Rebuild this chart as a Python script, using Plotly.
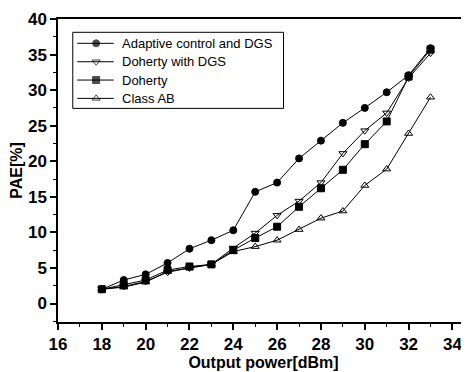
import plotly.graph_objects as go

x_power = [18, 19, 20, 21, 22, 23, 24, 25, 26, 27, 28, 29, 30, 31, 32, 33]
adaptive_dgs = [2.0, 3.3, 4.1, 5.7, 7.7, 8.9, 10.3, 15.7, 17.0, 20.4, 22.9, 25.4, 27.5, 29.7, 32.1, 35.9]
doherty_dgs = [2.0, 2.4, 3.1, 4.4, 5.0, 5.5, 7.8, 9.9, 12.4, 14.4, 17.0, 21.1, 24.3, 26.8, 31.7, 35.2]
doherty = [2.0, 2.6, 3.3, 4.7, 5.2, 5.5, 7.5, 9.2, 10.8, 13.6, 16.2, 18.8, 22.4, 25.6, 31.9, 35.7]
class_ab = [2.0, 2.3, 3.0, 4.5, 5.0, 5.5, 7.3, 8.0, 8.9, 10.4, 12.0, 13.0, 16.6, 18.9, 23.9, 29.0]

x_ticks = [16, 18, 20, 22, 24, 26, 28, 30, 32, 34]
y_ticks = [0, 5, 10, 15, 20, 25, 30, 35, 40]

series_names = ["Adaptive control and DGS", "Doherty with DGS", "Doherty", "Class AB"]
series_values = [adaptive_dgs, doherty_dgs, doherty, class_ab]
series_symbols = ["circle", "triangle-down-open", "square", "triangle-up-open"]

# the page body has an 8px margin; size the figure so it fills the rest of the window
OFF = 8
W, H = 469 - OFF, 372 - OFF
l, r, t, b = 57.5 - OFF, 0, 19 - OFF, 372 - 321.7
pw, ph = W - l - r, H - t - b
FONT = "Liberation Sans, Arial, sans-serif"

fig = go.Figure()
for name, vals, sym in zip(series_names, series_values, series_symbols):
    fig.add_trace(go.Scatter(
        x=x_power, y=vals, name=name, mode="lines+markers", showlegend=False,
        line=dict(color="black", width=1),
        marker=dict(symbol=sym, size=7, color="black", line=dict(color="black", width=1)),
    ))

# legend drawn in a hidden pixel-space overlay (origin = top-left of plot area)
LX0, LX1, LY0, LY1 = 72.3 - 57.5, 283.3 - 57.5, 32.3 - 19, 108.3 - 19
row_y = [43.3 - 19, 61.7 - 19, 80.0 - 19, 98.3 - 19]
samp_x = [76.7 - 57.5, 95.7 - 57.5, 113.3 - 57.5]
text_x = 120 - 57.5
fig.add_shape(type="rect", xref="x2", yref="y2", x0=LX0, x1=LX1, y0=LY0, y1=LY1,
              line=dict(color="black", width=1), fillcolor="white", layer="below")
for name, sym, ry in zip(series_names, series_symbols, row_y):
    fig.add_trace(go.Scatter(
        x=samp_x, y=[ry] * 3, xaxis="x2", yaxis="y2", mode="lines+markers",
        showlegend=False, hoverinfo="skip",
        line=dict(color="black", width=1),
        marker=dict(symbol=sym, size=[0, 7, 0], color="black", line=dict(color="black", width=1)),
    ))
    fig.add_annotation(x=text_x, y=ry, xref="x2", yref="y2", text=name, showarrow=False,
                       xanchor="left", yanchor="middle",
                       font=dict(size=13, family=FONT, color="black"))

fig.update_layout(
    width=W, height=H,
    margin=dict(l=l, r=r, t=t, b=b, pad=0, autoexpand=False),
    paper_bgcolor="white", plot_bgcolor="white",
    font=dict(family=FONT, color="black"),
    showlegend=False,
    xaxis=dict(
        range=[16, 16 + pw / 21.94],
        tickmode="array", tickvals=x_ticks, ticktext=[f"<b>{v}</b>" for v in x_ticks],
        ticks="outside", ticklen=6, tickwidth=1.5, tickcolor="black",
        minor=dict(dtick=1, ticks="outside", ticklen=3, tickwidth=1, tickcolor="black"),
        showline=True, linecolor="black", linewidth=1.5, mirror=True,
        showgrid=False, zeroline=False, automargin=False,
        tickfont=dict(size=17, family=FONT, weight="bold"),
        title=dict(text="<b>Output power[dBm]</b>", font=dict(size=16, weight="bold"), standoff=3),
    ),
    yaxis=dict(
        range=[-2.6, 40],
        tickmode="array", tickvals=y_ticks, ticktext=[f"<b>{v}</b>" for v in y_ticks],
        ticks="outside", ticklen=6, tickwidth=1.5, tickcolor="black",
        minor=dict(dtick=2.5, tick0=0, ticks="outside", ticklen=3, tickwidth=1, tickcolor="black"),
        showline=True, linecolor="black", linewidth=1.5,
        showgrid=False, zeroline=False, automargin=False,
        tickfont=dict(size=17, family=FONT, weight="bold"),
        title=dict(text="<b>PAE[%]</b>", font=dict(size=16, weight="bold"), standoff=2),
    ),
    xaxis2=dict(overlaying="x", range=[0, pw], visible=False, fixedrange=True),
    yaxis2=dict(overlaying="y", range=[ph, 0], visible=False, fixedrange=True),
)

fig.write_html("out.html")
